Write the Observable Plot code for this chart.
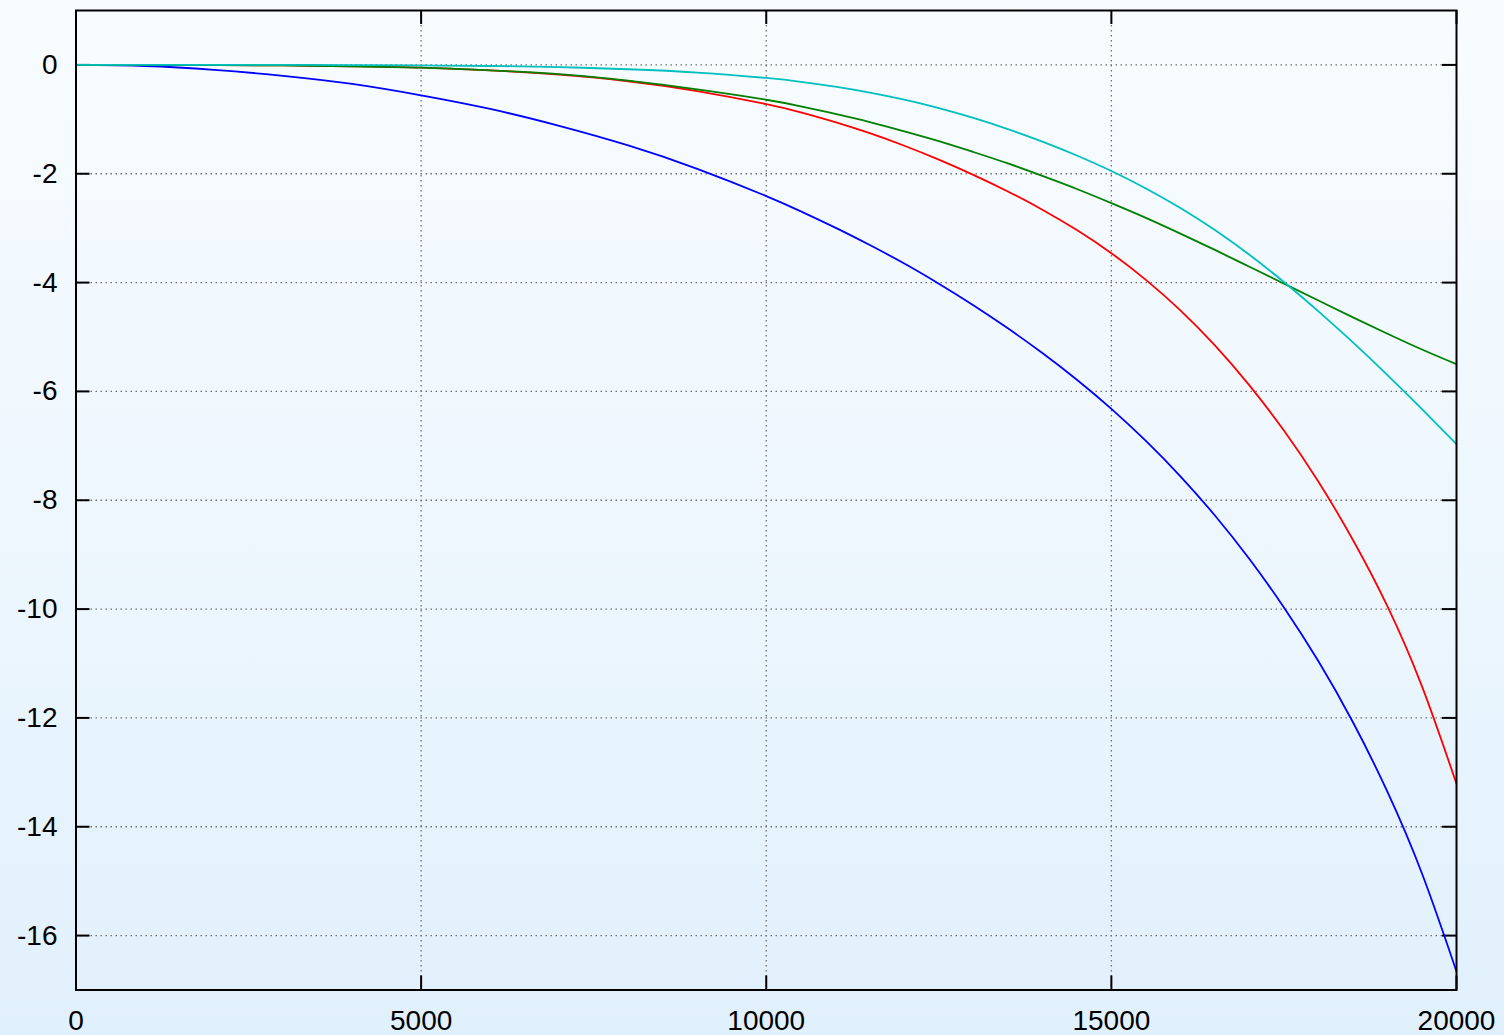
<!DOCTYPE html>
<html>
<head>
<meta charset="utf-8">
<script src="https://cdn.jsdelivr.net/npm/d3@7"></script>
<script src="https://cdn.jsdelivr.net/npm/@observablehq/plot@0.6"></script>
<style>
  html, body { margin: 0; padding: 0; }
  body {
    width: 1504px; height: 1035px; overflow: hidden;
    background: linear-gradient(to bottom, #f8fcff 0%, #eef7fe 50%, #e0f0fc 100%);
    font-family: "Liberation Sans", Arial, sans-serif;
  }
  #chart svg { display: block; background: transparent; overflow: visible; }
</style>
</head>
<body>
<div id="chart"></div>
<script>
const freq  = [0,1000,2000,3000,4000,5000,6000,7000,8000,9000,
               10000,10500,11000,11500,12000,12500,13000,13500,14000,14500,
               15000,15500,16000,16500,17000,17500,18000,18500,19000,19500,20000];
const blue  = [0,-0.02,-0.09,-0.2,-0.35,-0.56,-0.81,-1.12,-1.48,-1.91,
               -2.41,-2.69,-2.99,-3.31,-3.65,-4.02,-4.415,-4.84,-5.295,-5.785,
               -6.32,-6.91,-7.56,-8.28,-9.08,-9.97,-10.96,-12.08,-13.36,-14.86,-16.66];
const red   = [0,0,-0.005,-0.01,-0.025,-0.05,-0.10,-0.18,-0.30,-0.48,
               -0.72,-0.87,-1.05,-1.255,-1.485,-1.74,-2.02,-2.325,-2.66,-3.035,
               -3.46,-3.95,-4.51,-5.155,-5.89,-6.72,-7.66,-8.73,-9.95,-11.42,-13.21];
const green = [0,0,-0.005,-0.01,-0.025,-0.05,-0.10,-0.17,-0.29,-0.45,
               -0.64,-0.76,-0.90,-1.05,-1.22,-1.40,-1.60,-1.81,-2.04,-2.28,
               -2.54,-2.81,-3.10,-3.40,-3.71,-4.02,-4.33,-4.64,-4.94,-5.23,-5.5];
const cyan  = [0,0,0,0,-0.003,-0.01,-0.02,-0.04,-0.08,-0.14,
               -0.24,-0.31,-0.40,-0.51,-0.64,-0.795,-0.975,-1.18,-1.41,-1.665,
               -1.95,-2.27,-2.63,-3.035,-3.49,-3.99,-4.53,-5.10,-5.70,-6.325,-6.97];

const seriesNames  = ["blue", "red", "green", "cyan"];
const seriesValues = [blue, red, green, cyan];
const seriesColors = ["#0000ff", "#ff0000", "#008000", "#00bfbf"];

const xTicks = [0, 5000, 10000, 15000, 20000];
const yTicks = [-16, -14, -12, -10, -8, -6, -4, -2, 0];

const W = 1504, H = 1035;
const mL = 75.5, mR = 48, mT = 10, mB = 45.5;
const innerW = W - mL - mR, innerH = H - mT - mB;
const tickLen = 14;
const fontFamily = "'Liberation Sans', Arial, sans-serif";

const rows = seriesNames.flatMap((name, i) =>
  freq.map((f, j) => ({series: name, x: f, y: seriesValues[i][j]}))
);

const marks = [
  Plot.gridY(yTicks, {stroke: "#707070", strokeOpacity: 1, strokeWidth: 1.3, strokeDasharray: "1.5,3.5"}),
  Plot.gridX(xTicks.slice(1, -1), {stroke: "#707070", strokeOpacity: 1, strokeWidth: 1.3, strokeDasharray: "1.5,3.5"}),
  // inward tick marks on all four sides
  Plot.tickY(yTicks, {y: d => d, stroke: "black", strokeWidth: 2, insetRight: innerW - tickLen}),
  Plot.tickY(yTicks, {y: d => d, stroke: "black", strokeWidth: 2, insetLeft: innerW - tickLen}),
  Plot.tickX(xTicks, {x: d => d, stroke: "black", strokeWidth: 2, insetTop: innerH - tickLen}),
  Plot.tickX(xTicks, {x: d => d, stroke: "black", strokeWidth: 2, insetBottom: innerH - tickLen}),
  ...seriesNames.map((name, i) =>
    Plot.line(rows.filter(r => r.series === name), {
      x: "x", y: "y", stroke: seriesColors[i], strokeWidth: 1.8, curve: "natural"
    })
  ),
  Plot.frame({stroke: "black", strokeWidth: 2}),
  Plot.axisY(yTicks, {tickSize: 0, tickPadding: 18.5, fontSize: 28, fontFamily, fill: "black", label: null, tickFormat: d => String(d)}),
  Plot.axisX(xTicks, {tickSize: 0, tickPadding: 20, fontSize: 28, fontFamily, fill: "black", label: null, tickFormat: d => String(d)})
];

const chart = Plot.plot({
  width: W,
  height: H,
  marginLeft: mL,
  marginRight: mR,
  marginTop: mT,
  marginBottom: mB,
  style: {background: "transparent", overflow: "visible", color: "black"},
  x: {domain: [0, 20000], label: null},
  y: {domain: [-17, 1], label: null},
  marks
});
document.getElementById("chart").appendChild(chart);
</script>
</body>
</html>
